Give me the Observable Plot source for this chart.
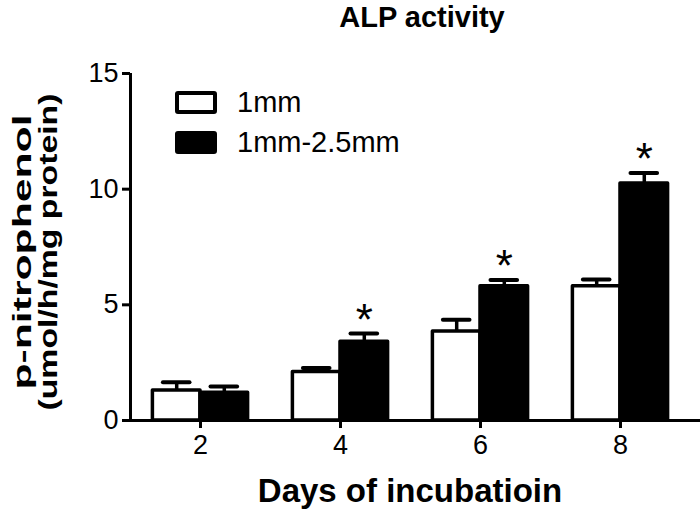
<!DOCTYPE html>
<html><head><meta charset="utf-8">
<script src="https://cdn.jsdelivr.net/npm/d3@7"></script>
<script src="https://cdn.jsdelivr.net/npm/@observablehq/plot@0.6"></script>
<style>body{margin:0;background:#fff;font-family:"Liberation Sans",Arial,sans-serif}</style>
</head><body><div id="chart"></div>
<script>
const days = [2, 4, 6, 8];
const series = ["1mm", "1mm-2.5mm"];
const mean1mm = [1.3, 2.1, 3.85, 5.8];
const sem1mm = [0.35, 0.17, 0.5, 0.3];
const mean25 = [1.2, 3.4, 5.8, 10.25];
const sem25 = [0.27, 0.36, 0.27, 0.45];
const significant = [false, true, true, true];
const yTicks = [0, 5, 10, 15];
const xTicks = [2, 4, 6, 8];
const title = "ALP activity";
const xLabel = "Days of incubatioin";
const yLabel = ["p-nitrophenol", "(umol/h/mg protein)"];
const fills = ["white", "black"];

const rows = [];
days.forEach((d, i) => {
  rows.push({day: d, series: series[0], mean: mean1mm[i], sem: sem1mm[i], side: -1, sig: false});
  rows.push({day: d, series: series[1], mean: mean25[i], sem: sem25[i], side: 1, sig: significant[i]});
});
const barW = 0.68;
const capHalf = 0.19;
const x1 = r => r.side < 0 ? r.day - barW : r.day;
const x2 = r => r.side < 0 ? r.day : r.day + barW;
const cx = r => r.day + r.side * barW / 2;

const svg = Plot.plot({
  width: 700, height: 514,
  marginLeft: 130, marginRight: 0, marginTop: 73, marginBottom: 94,
  style: {fontFamily: "Liberation Sans, Arial, sans-serif", color: "black", background: "white", overflow: "visible"},
  x: {type: "linear", domain: [1, 9.143]},
  y: {domain: [0, 15]},
  marks: [
    Plot.ruleX(rows, {x: cx, y1: "mean", y2: r => r.mean + r.sem, stroke: "black", strokeWidth: 3.5}),
    Plot.ruleY(rows, {y: r => r.mean + r.sem, x1: r => cx(r) - capHalf, x2: r => cx(r) + capHalf, stroke: "black", strokeWidth: 4, strokeLinecap: "round"}),
    Plot.rect(rows, {x1, x2, y1: 0, y2: "mean", fill: r => fills[series.indexOf(r.series)], stroke: "black", strokeWidth: 3.5, strokeLinejoin: "round"}),
    Plot.text(rows.filter(r => r.sig), {x: cx, y: r => r.mean + r.sem, text: () => "*", fontSize: 44, dy: -13, fill: "black"}),
    Plot.ruleX([1], {y1: 0, y2: 15, stroke: "black", strokeWidth: 3}),
    Plot.ruleY([0], {stroke: "black", strokeWidth: 3}),
    Plot.axisY(yTicks, {tickSize: 8, tickPadding: 4, fontSize: 27, strokeWidth: 3, label: null}),
    Plot.axisX(xTicks, {tickSize: 8, tickPadding: 6, fontSize: 27, strokeWidth: 3, label: null})
  ]
});
document.getElementById("chart").appendChild(svg);

const s = d3.select(svg);
const ff = "Liberation Sans, Arial, sans-serif";
s.append("text").attr("x", 422).attr("y", 27).attr("text-anchor", "middle")
  .attr("font-family", ff).attr("font-size", 29).attr("font-weight", "bold").attr("fill", "black").text(title);
s.append("text").attr("x", 410).attr("y", 502).attr("text-anchor", "middle")
  .attr("font-family", ff).attr("font-size", 33).attr("font-weight", "bold").attr("fill", "black").text(xLabel);
const yl = [{t: yLabel[0], x: 31, len: 275}, {t: yLabel[1], x: 57, len: 317}];
yl.forEach(l => {
  s.append("text").attr("transform", `translate(${l.x},252) rotate(-90)`).attr("text-anchor", "middle")
    .attr("font-family", ff).attr("font-size", 26).attr("font-weight", "bold").attr("fill", "black")
    .attr("textLength", l.len).attr("lengthAdjust", "spacingAndGlyphs").text(l.t);
});
const leg = s.append("g");
series.forEach((name, i) => {
  leg.append("rect").attr("x", 177).attr("y", 93 + i * 40).attr("width", 38).attr("height", 19)
    .attr("fill", fills[i]).attr("stroke", "black").attr("stroke-width", 4).attr("rx", 1);
  leg.append("text").attr("x", 237).attr("y", 112 + i * 40).attr("text-anchor", "start")
    .attr("font-family", ff).attr("font-size", 29).attr("fill", "black").text(name);
});
</script></body></html>
